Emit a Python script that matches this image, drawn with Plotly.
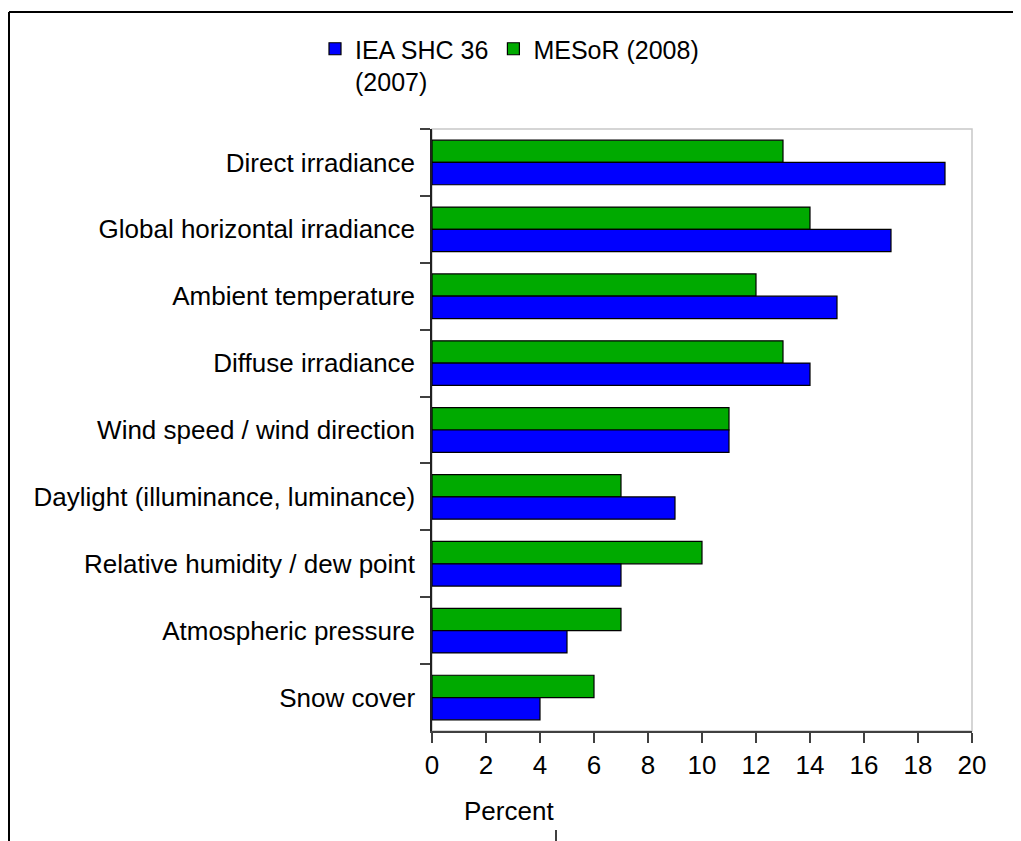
import plotly.graph_objects as go

categories = [
    "Direct irradiance",
    "Global horizontal irradiance",
    "Ambient temperature",
    "Diffuse irradiance",
    "Wind speed / wind direction",
    "Daylight (illuminance, luminance)",
    "Relative humidity / dew point",
    "Atmospheric pressure",
    "Snow cover",
]
iea_values = [19, 17, 15, 14, 11, 9, 7, 5, 4]
mesor_values = [13, 14, 12, 13, 11, 7, 10, 7, 6]
series_names = ["IEA SHC 36<br>(2007)", "MESoR (2008)"]
x_ticks = [0, 2, 4, 6, 8, 10, 12, 14, 16, 18, 20]

FONT = "Liberation Sans, Arial, sans-serif"
OFF = 8  # page body margin
W, H = 1021 - OFF, 841 - OFF
L, T = 432 - OFF, 129 - OFF
R = W - (972 - OFF)
B = H - (731 - OFF)
pw, ph = W - L - R, H - T - B


def px_x(x):
    return (x - OFF - L) / pw


def px_y(y):
    return (H - B - (y - OFF)) / ph


fig = go.Figure()
fig.add_trace(go.Bar(
    y=categories, x=mesor_values, orientation="h", name=series_names[1],
    marker=dict(color="#00AA00", line=dict(color="#000000", width=1.2)),
    legendrank=2,
))
fig.add_trace(go.Bar(
    y=categories, x=iea_values, orientation="h", name=series_names[0],
    marker=dict(color="#0000FF", line=dict(color="#000000", width=1.2)),
    legendrank=1,
))

shapes = [
    dict(type="rect", xref="paper", yref="paper", x0=0, x1=1, y0=0, y1=1,
         line=dict(color="#C8C8C8", width=1.5), layer="below"),
    dict(type="line", xref="paper", yref="paper",
         x0=px_x(9), x1=px_x(1040), y0=px_y(12), y1=px_y(12),
         line=dict(color="#000000", width=2)),
    dict(type="line", xref="paper", yref="paper",
         x0=px_x(9), x1=px_x(9), y0=px_y(12), y1=px_y(860),
         line=dict(color="#000000", width=2)),
    dict(type="line", xref="paper", yref="paper",
         x0=px_x(556), x1=px_x(556), y0=px_y(830), y1=px_y(860),
         line=dict(color="#000000", width=1.5)),
]

fig.update_layout(
    width=W, height=H,
    margin=dict(l=L, r=R, t=T, b=B, pad=0),
    paper_bgcolor="white", plot_bgcolor="white",
    font=dict(family=FONT, size=26, color="#000000"),
    barmode="group", bargap=0.333, bargroupgap=0,
    showlegend=True,
    legend=dict(
        orientation="h", x=px_x(315), y=px_y(26), xanchor="left", yanchor="top",
        font=dict(family=FONT, size=25, color="#000000"),
        valign="top", bgcolor="rgba(0,0,0,0)", itemwidth=30,
        tracegroupgap=0,
    ),
    xaxis=dict(
        range=[0, 20], tickvals=x_ticks, ticktext=[str(v) for v in x_ticks],
        ticks="outside", ticklen=10, tickwidth=1.5, tickcolor="#404040",
        showline=True, linecolor="#404040", linewidth=1.5,
        showgrid=False, zeroline=False, fixedrange=True,
        tickfont=dict(family=FONT, size=26, color="#000000"),
        ticklabelstandoff=0,
    ),
    yaxis=dict(
        categoryorder="array", categoryarray=categories, autorange="reversed",
        ticks="outside", tickson="boundaries", ticklen=10, tickwidth=1.5,
        tickcolor="#404040", showline=True, linecolor="#202020", linewidth=1.5,
        showgrid=False, zeroline=False, fixedrange=True,
        tickfont=dict(family=FONT, size=26, color="#000000"),
        ticklabelstandoff=10,
    ),
    shapes=shapes,
    annotations=[
        dict(text="Percent", xref="paper", yref="paper", x=px_x(509), y=px_y(811),
             xanchor="center", yanchor="middle", showarrow=False,
             font=dict(family=FONT, size=26, color="#000000")),
    ],
)

fig.write_html("out.html")
